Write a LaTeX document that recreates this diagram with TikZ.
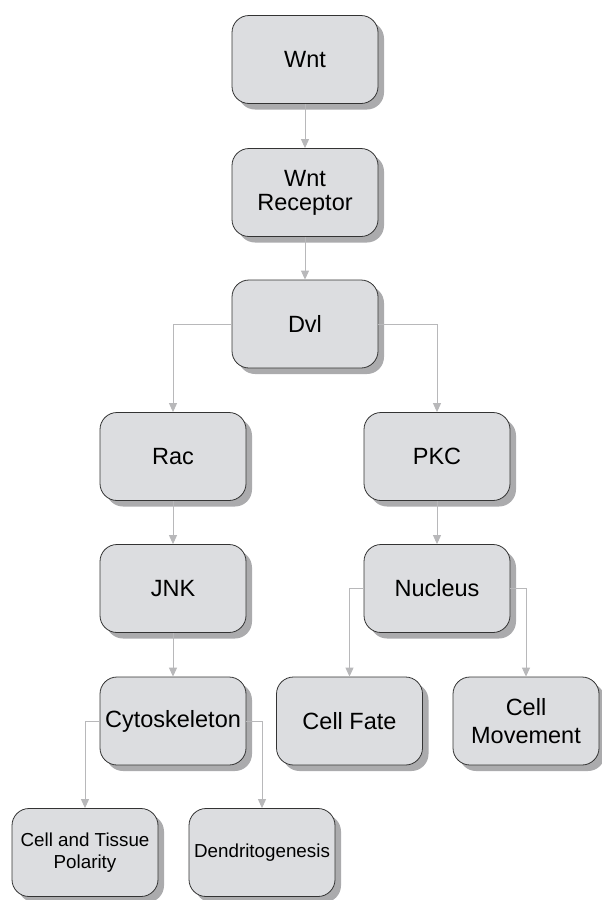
\documentclass[tikz,border=0pt]{standalone}
\usepackage{fontspec}
\setmainfont{Liberation Sans}
\usetikzlibrary{arrows.meta,shadows}
\definecolor{boxfill}{HTML}{DCDDE0}
\definecolor{shadowgray}{HTML}{ABABAD}
\definecolor{linegray}{HTML}{B8B8BA}
\definecolor{boxline}{HTML}{333333}
\begin{document}
\begin{tikzpicture}[x=1pt,y=-1pt,
  box/.style={draw=boxline, line width=0.8pt, fill=boxfill, rounded corners=17pt,
    minimum width=146pt, minimum height=88pt, align=center, inner sep=0pt,
    font=\fontsize{23.5}{26}\selectfont,
    drop shadow={shadow xshift=6pt, shadow yshift=-6pt, fill=shadowgray, opacity=1}},
  smallbox/.style={box, font=\fontsize{18.8}{22}\selectfont},
  conn/.style={draw=linegray, line width=0.9pt, -{Triangle[width=8pt,length=9pt]}}]
\useasboundingbox (0,0) rectangle (602,900);
\node[box] (wnt) at (305,59.5) {Wnt};
\node[box] (rec) at (305,192.5) {Wnt\\[-2pt]Receptor};
\node[box] (dvl) at (305,324) {Dvl};
\node[box] (rac) at (173,456.5) {Rac};
\node[box] (pkc) at (437,456.5) {PKC};
\node[box] (jnk) at (173,588.5) {JNK};
\node[box] (nuc) at (437,588.5) {Nucleus};
\node[box] (cyto) at (173,721) {Cytoskeleton};
\node[box] (fate) at (349.5,721) {Cell Fate};
\node[box] (move) at (526,721) {Cell\\[2pt]Movement};
\node[smallbox] (pol) at (85,852.5) {Cell and Tissue\\Polarity};
\node[smallbox] (dend) at (262,852.5) {Dendritogenesis};
\draw[conn] (wnt) -- (rec);
\draw[conn] (rec) -- (dvl);
\draw[conn] (dvl.west) -| (rac.north);
\draw[conn] (dvl.east) -| (pkc.north);
\draw[conn] (rac) -- (jnk);
\draw[conn] (pkc) -- (nuc);
\draw[conn] (jnk) -- (cyto);
\draw[conn] (nuc.west) -| (fate.north);
\draw[conn] (nuc.east) -| (move.north);
\draw[conn] (cyto.west) -| (pol.north);
\draw[conn] (cyto.east) -| (dend.north);
\end{tikzpicture}
\end{document}
